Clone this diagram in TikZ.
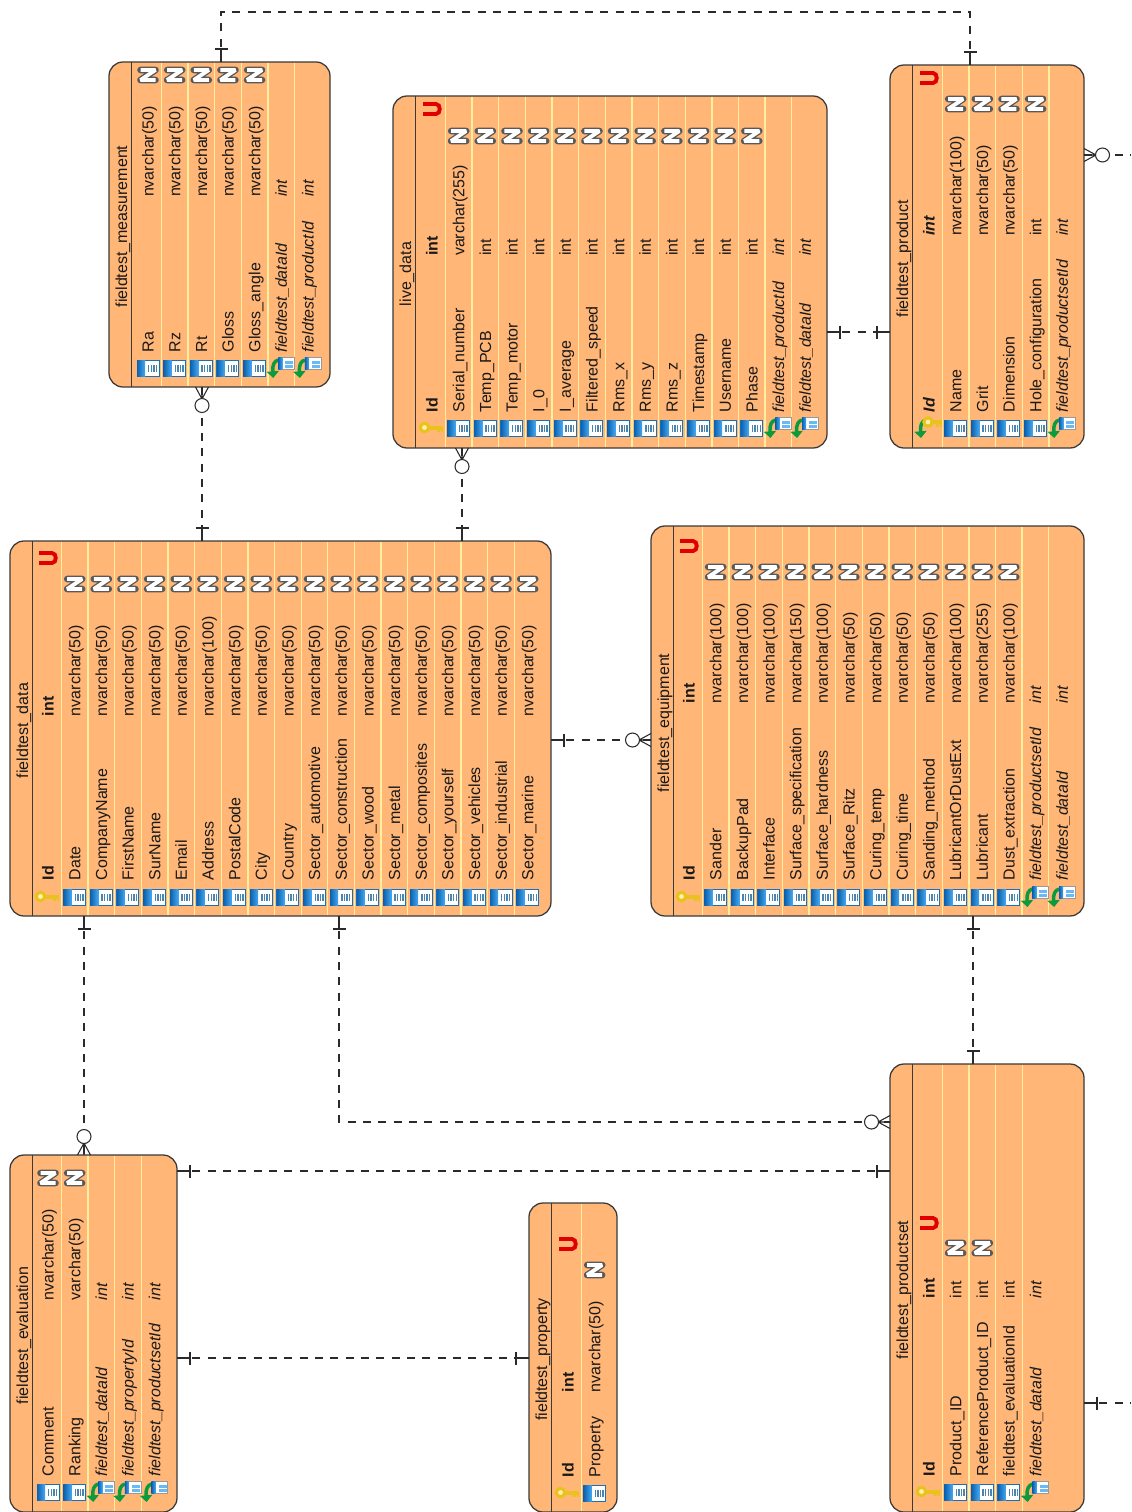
\documentclass[tikz,border=0pt]{standalone}
\usepackage{fontspec}
\setmainfont{Liberation Sans}
\usetikzlibrary{fit,arrows.meta,calc}
\definecolor{tblfill}{HTML}{FFB677}
\definecolor{tblrow}{HTML}{FFEF9E}
\definecolor{tbledge}{HTML}{3A3A3A}
\definecolor{iconedge}{HTML}{1570C0}
\definecolor{iconA}{HTML}{0C62B0}
\definecolor{iconB}{HTML}{45A8F0}
\definecolor{icondot}{HTML}{4C84AE}
\definecolor{fkgreen}{HTML}{0B9A3C}
\definecolor{keygold}{HTML}{E9C21E}
\definecolor{keypale}{HTML}{FFF2B0}
\definecolor{flagred}{HTML}{E00000}
\definecolor{conncol}{HTML}{2A2A2A}
\newcounter{nn}
\tikzset{
  tbl/.style={draw=tbledge,fill=tblfill,rounded corners=10.5pt,line width=.95pt,inner sep=0pt,outer sep=0pt},
  cellbase/.style={rotate=90,inner sep=0pt,outer sep=0pt,anchor=base west,text=black!90},
  tbltitle/.style={rotate=90,inner sep=0pt,outer sep=0pt,anchor=base,text=black!90,font=\fontsize{12}{14}\selectfont},
  kc/.style={cellbase,font=\fontsize{12}{14}\selectfont},
  kk/.style={cellbase,font=\fontsize{12}{14}\selectfont\bfseries},
  kf/.style={cellbase,font=\fontsize{12}{14}\selectfont\itshape},
  kkf/.style={cellbase,font=\fontsize{12}{14}\selectfont\bfseries\itshape},
  conn/.style={draw=conncol,line width=.8pt,dash pattern=on 6pt off 5.5pt},
  endmark/.style={draw=conncol,line width=.8pt}
}
% table frame: name, x0,y0,x1,y1, title, first row centre, rows
\newcommand\ertable[8]{%
  \node[tbl,fit={(#2,#3)(#4,#5)}] (#1) {};
  \draw[tbledge,line width=.85pt] (#2+22.5,#3) -- (#2+22.5,#5);
  \pgfmathsetmacro\nrl{int(#8-1)}
  \foreach \i in {1,...,\nrl}{
    \pgfmathsetmacro\lx{#7+(\i-.5)*26.65}
    \draw[tblrow,line width=1pt] (\lx,#3+.7) -- (\lx,#5-.7);
  }
  \node[tbltitle] (#1title) at ({#2+18},{(#3+#5)/2+2}) {#6};
  \def\rowX{#7}
}
\newcommand\iconc[1]{\begin{scope}[shift={(#1,\iconY)}]
  \draw[iconedge,fill=white,line width=.7pt] (-11,-8) rectangle (11,8);
  \shade[left color=iconA,right color=iconB] (-11,-8) rectangle (-3,8);
  \foreach \d in {0,2.6,5.2,7.8}{\fill[icondot] (\d,-3.5) rectangle +(1.4,7);}
\end{scope}}
\newcommand\smallicon{%
  \draw[black!40,fill=white,line width=.5pt] (-3,-11) rectangle (13,1);
  \shade[left color=iconA,right color=iconB] (-3,-11) rectangle (1,1);
  \fill[iconB!80] (4,-7.5) rectangle +(8,3);
  \fill[iconB!80] (4,-3.5) rectangle +(8,3);
}
\newcommand\greenarrow{%
  \draw[fkgreen,line width=2.6pt,-{Triangle[length=5pt,width=9pt]}] (-3,-8) .. controls (-7,-7) and (-9,-3) .. (-8,10);
}
\newcommand\iconk[1]{\begin{scope}[shift={(#1,\iconY)}]
  \fill[keygold] (-5,-2.5) rectangle (11,1.5);
  \fill[keygold] (5,1.5) rectangle (7.5,4);\fill[keygold] (8.5,1.5) rectangle (11,4);
  \draw[keygold,fill=keypale,line width=2.3pt] (-7.5,-.5) circle (4.2);
\end{scope}}
\newcommand\iconf[1]{\begin{scope}[shift={(#1,\iconY)}]
  \greenarrow\smallicon
\end{scope}}
\newcommand\iconkf[1]{\begin{scope}[shift={(#1,\iconY)}]
  \greenarrow
  \fill[keygold] (2,-8) rectangle (13,-4);
  \fill[keygold] (7,-4) rectangle (9.5,-1.5);\fill[keygold] (10.5,-4) rectangle (13,-1.5);
  \draw[keygold,fill=keypale,line width=2.3pt] (-1,-6) circle (4.2);
\end{scope}}
\newcommand\flagN[1]{%
  \draw[black!65,line width=4.9pt,line join=round,line cap=round] (#1+7.5,\nY+5) -- (#1-7.5,\nY+5) -- (#1+7.5,\nY-5) -- (#1-7.5,\nY-5);
  \draw[white,line width=2.9pt,line join=miter,miter limit=2,line cap=butt] (#1+7.5,\nY+5) -- (#1-7.5,\nY+5) -- (#1+7.5,\nY-5) -- (#1-7.5,\nY-5);
}
\newcommand\flagU[1]{%
  \draw[flagred,line width=2.9pt] (#1-9,\uY-5) -- (#1+4,\uY-5) .. controls (#1+9,\uY-5) and (#1+9,\uY+5) .. (#1+4,\uY+5) -- (#1-9,\uY+5);
}
% row: index, kind (c,k,f,kf), name, type, flag (N,U or empty)
\newcommand\erow[5]{%
  \pgfmathsetmacro\cx{\rowX+#1*26.65}
  \csname icon#2\endcsname{\cx}
  \stepcounter{nn}
  \node[k#2] (n\arabic{nn}) at ({\cx+5.7},\nameY) {#3};
  \node[k#2] (t\arabic{nn}) at ({\cx+5.7},\typeY) {#4};
  \ifx\relax#5\relax\else\csname flag#5\endcsname{\cx}\fi
}
\newcommand\setcols[5]{\def\iconY{#1}\def\nameY{#2}\def\typeY{#3}\def\nY{#4}\def\uY{#5}}
% markers: local +x points away from the table
\newcommand\mone[2]{\begin{scope}[shift={(#1)},rotate=#2]
  \draw[endmark] (0,0) -- (13,0) (13,-6.5) -- (13,6.5);
\end{scope}}
\newcommand\mmany[2]{\begin{scope}[shift={(#1)},rotate=#2]
  \draw[endmark] (0,-6.5) -- (12,0) -- (0,6.5) (0,0) -- (12,0);
  \draw[endmark,fill=white] (18.5,0) circle (7);
\end{scope}}
\begin{document}
\begin{tikzpicture}[x=.75pt,y=-.75pt]
\clip (0,0) rectangle (1131,1512);
\fill[white] (0,0) rectangle (1131,1512);

% fieldtest_measurement
\ertable{meas}{109}{62}{330}{387}{fieldtest\_measurement}{148}{7}
\setcols{368}{352}{197}{75}{0}
\erow{0}{c}{Ra}{nvarchar(50)}{N}
\erow{1}{c}{Rz}{nvarchar(50)}{N}
\erow{2}{c}{Rt}{nvarchar(50)}{N}
\erow{3}{c}{Gloss}{nvarchar(50)}{N}
\erow{4}{c}{Gloss\_angle}{nvarchar(50)}{N}
\erow{5}{f}{fieldtest\_dataId}{int}{}
\erow{6}{f}{fieldtest\_productId}{int}{}

% live_data
\ertable{live}{393}{96}{827}{448}{live\_data}{432}{15}
\setcols{428}{412}{256}{136}{109}
\erow{0}{k}{Id}{int}{U}
\erow{1}{c}{Serial\_number}{varchar(255)}{N}
\erow{2}{c}{Temp\_PCB}{int}{N}
\erow{3}{c}{Temp\_motor}{int}{N}
\erow{4}{c}{I\_0}{int}{N}
\erow{5}{c}{I\_average}{int}{N}
\erow{6}{c}{Filtered\_speed}{int}{N}
\erow{7}{c}{Rms\_x}{int}{N}
\erow{8}{c}{Rms\_y}{int}{N}
\erow{9}{c}{Rms\_z}{int}{N}
\erow{10}{c}{Timestamp}{int}{N}
\erow{11}{c}{Username}{int}{N}
\erow{12}{c}{Phase}{int}{N}
\erow{13}{f}{fieldtest\_productId}{int}{}
\erow{14}{f}{fieldtest\_dataId}{int}{}

% fieldtest_product
\ertable{prod}{890}{65}{1084}{448}{fieldtest\_product}{929}{6}
\setcols{428}{412}{236}{104}{78}
\erow{0}{kf}{Id}{int}{U}
\erow{1}{c}{Name}{nvarchar(100)}{N}
\erow{2}{c}{Grit}{nvarchar(50)}{N}
\erow{3}{c}{Dimension}{nvarchar(50)}{N}
\erow{4}{c}{Hole\_configuration}{int}{N}
\erow{5}{f}{fieldtest\_productsetId}{int}{}

% fieldtest_data
\ertable{data}{10}{541}{551}{916}{fieldtest\_data}{48}{19}
\setcols{897}{880}{716}{584}{558}
\erow{0}{k}{Id}{int}{U}
\erow{1}{c}{Date}{nvarchar(50)}{N}
\erow{2}{c}{CompanyName}{nvarchar(50)}{N}
\erow{3}{c}{FirstName}{nvarchar(50)}{N}
\erow{4}{c}{SurName}{nvarchar(50)}{N}
\erow{5}{c}{Email}{nvarchar(50)}{N}
\erow{6}{c}{Address}{nvarchar(100)}{N}
\erow{7}{c}{PostalCode}{nvarchar(50)}{N}
\erow{8}{c}{City}{nvarchar(50)}{N}
\erow{9}{c}{Country}{nvarchar(50)}{N}
\erow{10}{c}{Sector\_automotive}{nvarchar(50)}{N}
\erow{11}{c}{Sector\_construction}{nvarchar(50)}{N}
\erow{12}{c}{Sector\_wood}{nvarchar(50)}{N}
\erow{13}{c}{Sector\_metal}{nvarchar(50)}{N}
\erow{14}{c}{Sector\_composites}{nvarchar(50)}{N}
\erow{15}{c}{Sector\_yourself}{nvarchar(50)}{N}
\erow{16}{c}{Sector\_vehicles}{nvarchar(50)}{N}
\erow{17}{c}{Sector\_industrial}{nvarchar(50)}{N}
\erow{18}{c}{Sector\_marine}{nvarchar(50)}{N}

% fieldtest_equipment
\ertable{equip}{651}{526}{1084}{916}{fieldtest\_equipment}{689}{15}
\setcols{897}{880}{703}{572}{546}
\erow{0}{k}{Id}{int}{U}
\erow{1}{c}{Sander}{nvarchar(100)}{N}
\erow{2}{c}{BackupPad}{nvarchar(100)}{N}
\erow{3}{c}{Interface}{nvarchar(100)}{N}
\erow{4}{c}{Surface\_specification}{nvarchar(150)}{N}
\erow{5}{c}{Surface\_hardness}{nvarchar(100)}{N}
\erow{6}{c}{Surface\_Ritz}{nvarchar(50)}{N}
\erow{7}{c}{Curing\_temp}{nvarchar(50)}{N}
\erow{8}{c}{Curing\_time}{nvarchar(50)}{N}
\erow{9}{c}{Sanding\_method}{nvarchar(50)}{N}
\erow{10}{c}{LubricantOrDustExt}{nvarchar(100)}{N}
\erow{11}{c}{Lubricant}{nvarchar(255)}{N}
\erow{12}{c}{Dust\_extraction}{nvarchar(100)}{N}
\erow{13}{f}{fieldtest\_productsetId}{int}{}
\erow{14}{f}{fieldtest\_dataId}{int}{}

% fieldtest_productset
\ertable{pset}{890}{1064}{1084}{1512}{fieldtest\_productset}{929}{5}
\setcols{1492}{1476}{1298}{1248}{1223}
\erow{0}{k}{Id}{int}{U}
\erow{1}{c}{Product\_ID}{int}{N}
\erow{2}{c}{ReferenceProduct\_ID}{int}{N}
\erow{3}{c}{fieldtest\_evaluationId}{int}{}
\erow{4}{f}{fieldtest\_dataId}{int}{}

% fieldtest_evaluation
\ertable{eval}{10}{1155}{177}{1512}{fieldtest\_evaluation}{48}{5}
\setcols{1492}{1476}{1300}{1178}{0}
\erow{0}{c}{Comment}{nvarchar(50)}{N}
\erow{1}{c}{Ranking}{varchar(50)}{N}
\erow{2}{f}{fieldtest\_dataId}{int}{}
\erow{3}{f}{fieldtest\_propertyId}{int}{}
\erow{4}{f}{fieldtest\_productsetId}{int}{}

% fieldtest_property
\ertable{prop}{529}{1203}{617}{1512}{fieldtest\_property}{568}{2}
\setcols{1493}{1477}{1392}{1270}{1244}
\erow{0}{k}{Id}{int}{U}
\erow{1}{c}{Property}{nvarchar(50)}{N}

% connectors
\coordinate (bendA) at (221,12);
\coordinate (bendB) at (970,12);
\coordinate (bendC) at (339,1122);
\coordinate (offA) at (1131,155);
\coordinate (offB) at (1131,1403);
\draw[conn] (meas.north -| bendA) -- (bendA) -- (bendB) -- (prod.north -| bendB);
\draw[conn] (meas.south -| 202,0) -- (data.north -| 202,0);
\draw[conn] (live.south -| 462,0) -- (data.north -| 462,0);
\draw[conn] (live.east |- 0,332) -- (prod.west |- 0,332);
\draw[conn] (prod.east |- offA) -- (offA);
\draw[conn] (data.east |- 0,740) -- (equip.west |- 0,740);
\draw[conn] (data.south -| 84,0) -- (eval.north -| 84,0);
\draw[conn] (data.south -| bendC) -- (bendC) -- (pset.west |- bendC);
\draw[conn] (equip.south -| 973,0) -- (pset.north -| 973,0);
\draw[conn] (eval.east |- 0,1171) -- (pset.west |- 0,1171);
\draw[conn] (eval.east |- 0,1358) -- (prop.west |- 0,1358);
\draw[conn] (pset.east |- offB) -- (offB);

\mone{meas.north -| bendA}{90}
\mone{prod.north -| bendB}{90}
\mmany{meas.south -| 202,0}{270}
\mone{data.north -| 202,0}{90}
\mmany{live.south -| 462,0}{270}
\mone{data.north -| 462,0}{90}
\mone{live.east |- 0,332}{0}
\mone{prod.west |- 0,332}{180}
\mmany{prod.east |- offA}{0}
\mone{data.east |- 0,740}{0}
\mmany{equip.west |- 0,740}{180}
\mone{data.south -| 84,0}{270}
\mmany{eval.north -| 84,0}{90}
\mone{data.south -| bendC}{270}
\mmany{pset.west |- bendC}{180}
\mone{equip.south -| 973,0}{270}
\mone{pset.north -| 973,0}{90}
\mone{eval.east |- 0,1171}{0}
\mone{pset.west |- 0,1171}{180}
\mone{eval.east |- 0,1358}{0}
\mone{prop.west |- 0,1358}{180}
\mone{pset.east |- offB}{0}
\end{tikzpicture}
\end{document}
